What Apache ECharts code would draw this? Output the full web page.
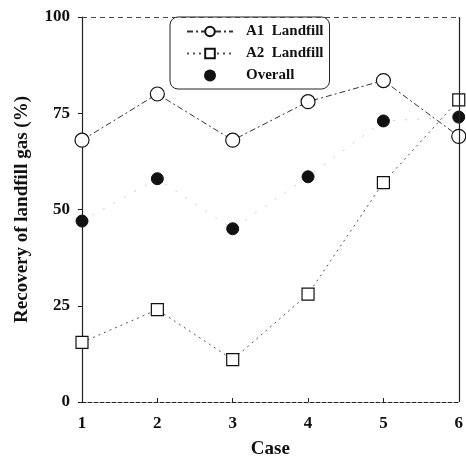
<!DOCTYPE html>
<html>
<head>
<meta charset="utf-8">
<script src="https://cdn.jsdelivr.net/npm/echarts@6/dist/echarts.min.js"></script>
<style>
  html,body{margin:0;padding:0;background:#fff;}
  #chart{width:466px;height:464px;}
</style>
</head>
<body>
<div id="chart"></div>
<script>
// ===== Data
const cases = [1, 2, 3, 4, 5, 6];
const a1Landfill = [68, 80, 68, 78, 83.5, 69];
const a2Landfill = [15.5, 24, 11, 28, 57, 78.5];
const overall = [47, 58, 45, 58.5, 73, 74];
const yTicks = [0, 25, 50, 75, 100];

const pairs = arr => cases.map((c, i) => [c, arr[i]]);
const FONT = '"Liberation Serif", "DejaVu Serif", serif';

const chart = echarts.init(document.getElementById('chart'));
chart.setOption({
  backgroundColor: '#fff',
  animation: false,
  grid: { left: 82, right: 3, top: 17, bottom: 59 },
  legend: {
    left: 170, top: 17,
    orient: 'vertical',
    itemWidth: 46, itemHeight: 12, itemGap: 7,
    padding: [7, 6, 6, 16],
    borderColor: '#222', borderWidth: 1, borderRadius: 8,
    backgroundColor: '#fff',
    textStyle: { fontFamily: FONT, fontWeight: 'bold', fontSize: 15, color: '#111', padding: [0, 0, 0, 8] },
    data: ['A1  Landfill', 'A2  Landfill', { name: 'Overall', icon: 'circle' }]
  },
  xAxis: {
    type: 'value', min: 1, max: 6, interval: 1,
    name: 'Case', nameLocation: 'middle', nameGap: 38,
    nameTextStyle: { fontFamily: FONT, fontWeight: 'bold', fontSize: 19, color: '#111' },
    axisLine: { lineStyle: { color: '#222', type: 'dashed', width: 1 } },
    axisTick: { inside: true, length: 4, lineStyle: { color: '#222' } },
    axisLabel: { fontFamily: FONT, fontWeight: 'bold', fontSize: 17, color: '#111', margin: 13 },
    splitLine: { show: false }
  },
  yAxis: {
    type: 'value', min: 0, max: 100, interval: 25,
    name: 'Recovery of landfill gas (%)', nameLocation: 'middle', nameGap: 50,
    nameTextStyle: { fontFamily: FONT, fontWeight: 'bold', fontSize: 19, color: '#111' },
    axisLine: { show: true, lineStyle: { color: '#222', width: 1.2 } },
    axisTick: { show: true, length: 4, lineStyle: { color: '#222' } },
    axisLabel: {
      fontFamily: FONT, fontWeight: 'bold', fontSize: 17, color: '#111', margin: 12,
      formatter: v => yTicks.includes(v) ? String(v) : ''
    },
    splitLine: { show: false }
  },
  series: [
    {
      name: 'A1  Landfill', type: 'line', data: pairs(a1Landfill),
      symbol: 'circle', symbolSize: 14,
      itemStyle: { color: '#fff', borderColor: '#111', borderWidth: 1.2 },
      lineStyle: { color: '#333', width: 1, type: [6, 3, 2, 3] }
    },
    {
      name: 'A2  Landfill', type: 'line', data: pairs(a2Landfill),
      symbol: 'rect', symbolSize: 12,
      itemStyle: { color: '#fff', borderColor: '#111', borderWidth: 1.2 },
      lineStyle: { color: '#555', width: 1, type: [2, 4] }
    },
    {
      name: 'Overall', type: 'line', data: pairs(overall),
      symbol: 'circle', symbolSize: 12,
      itemStyle: { color: '#111', borderColor: '#111' },
      lineStyle: { color: '#bbb', width: 0.8, type: [2, 10] }
    },
    {
      // frame: top dashed border and right border
      type: 'line', silent: true, symbol: 'none', data: [],
      markLine: {
        silent: true, symbol: 'none', label: { show: false },
        data: [
          [{ coord: [1, 100] }, { coord: [6, 100] }],
          [{ coord: [6, 0], lineStyle: { type: 'solid', width: 1.2, color: '#222' } }, { coord: [6, 100] }]
        ],
        lineStyle: { color: '#444', width: 1, type: [5, 4] }
      }
    }
  ]
});
</script>
</body>
</html>
